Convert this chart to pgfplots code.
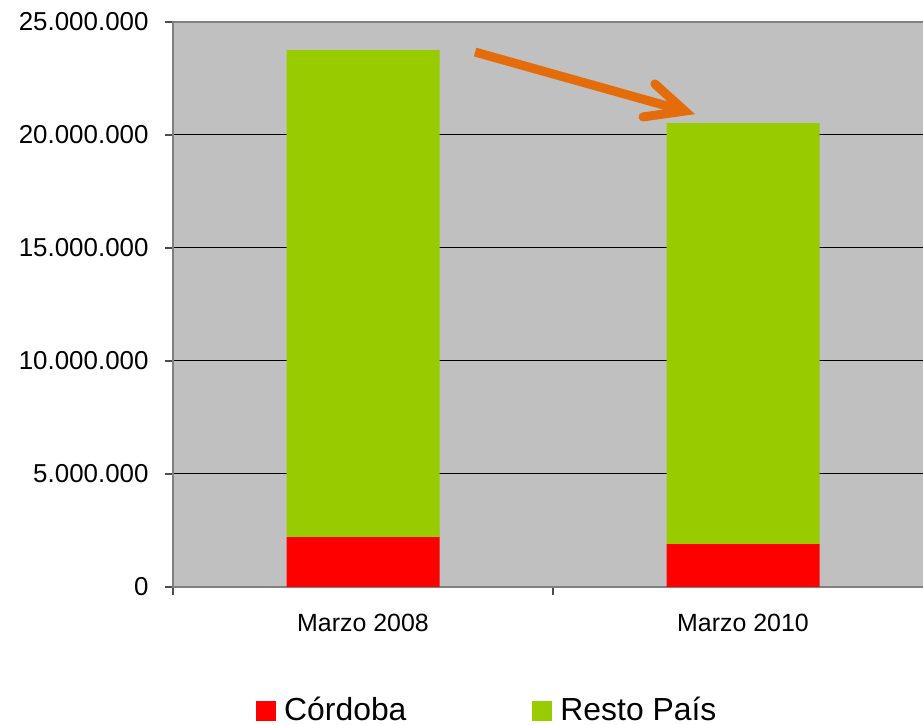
\documentclass[border=0pt]{standalone}
\usepackage{pgfplots}
\pgfplotsset{compat=1.18}
\usepackage{fontspec}
\setmainfont{Liberation Sans}
\definecolor{bggray}{HTML}{C0C0C0}
\definecolor{cordoba}{HTML}{FF0000}
\definecolor{resto}{HTML}{99CC00}
\definecolor{arrowor}{HTML}{E46C0A}
\definecolor{axgray}{HTML}{808080}
\begin{document}
\begin{tikzpicture}
\useasboundingbox (0,0) rectangle (923bp,725bp);
\begin{axis}[
  at={(173bp,138bp)}, anchor=south west,
  scale only axis, width=760bp, height=565bp,
  xmin=-0.5, xmax=1.5, ymin=0, ymax=25000000,
  ybar stacked, bar width=153bp,
  axis background/.style={fill=bggray},
  axis line style={draw=axgray, line width=2bp},
  ymajorgrids, grid style={black, line width=1bp},
  xtick={-0.5,0.5,1.5}, xticklabels={},
  extra x ticks={0,1},
  extra x tick labels={Marzo 2008, Marzo 2010},
  extra x tick style={major tick length=0pt, grid=none,
     tick label style={yshift=-24bp}},
  ytick={0,5000000,10000000,15000000,20000000,25000000},
  scaled y ticks=false,
  yticklabel={\pgfmathprintnumber[fixed,precision=0,1000 sep={.}]{\tick}},
  /pgf/number format/assume math mode=true,
  tick align=outside, tick pos=left,
  major tick length=8bp,
  tick style={draw=black!70, line width=1.5bp},
  tick label style={font=\fontsize{25}{30}\selectfont, text=black},
  yticklabel style={font=\fontsize{26}{31}\selectfont, xshift=-13bp},
  legend columns=2,
  legend style={at={(0.1092,-0.219)}, anchor=west, draw=none, fill=none,
     inner sep=0pt, font=\fontsize{32}{37}\selectfont,
     nodes={text depth=0pt},
     /tikz/every even column/.append style={column sep=124bp}},
  legend image code/.code={\fill[#1] (0bp,-10bp) rectangle (20bp,10bp); \path (26bp,0bp);},
]
\addplot[fill=cordoba, draw=none] coordinates {(0,2210000) (1,1900000)};
\addlegendentry{\raisebox{4bp}{Córdoba}}
\addplot[fill=resto, draw=none] coordinates {(0,21550000) (1,18630000)};
\addlegendentry{\raisebox{4bp}{Resto País}}
\draw[arrowor, line width=9bp] (axis cs:0.295,23670000) -- (axis cs:0.835,21120000);
\draw[arrowor, line width=9bp, line cap=round, line join=miter] (axis cs:0.768,22260000) -- (axis cs:0.847,21060000) -- (axis cs:0.737,20800000);
\end{axis}
\end{tikzpicture}
\end{document}
